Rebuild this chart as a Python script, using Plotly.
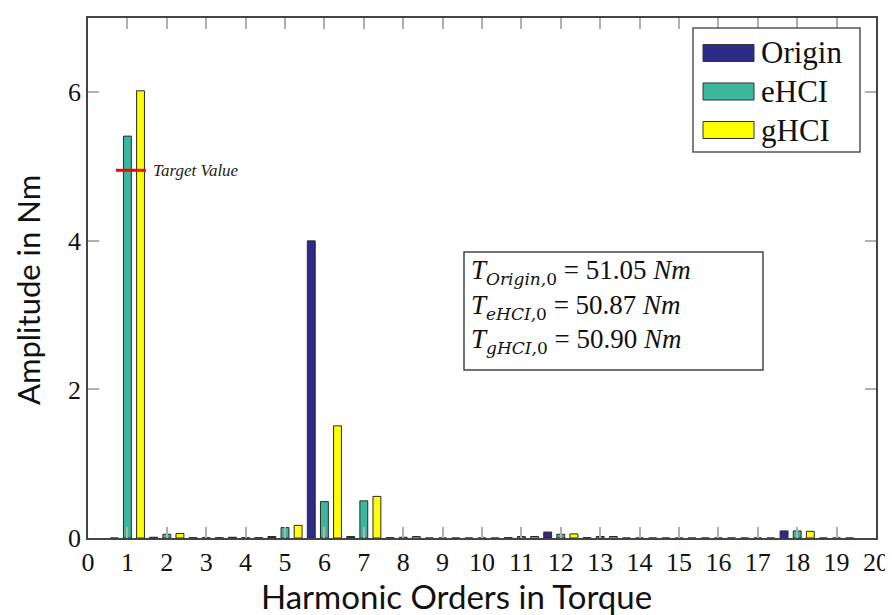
import plotly.graph_objects as go

harmonics = list(range(1, 20))
origin = [0.0, 0.01, 0.005, 0.01, 0.02, 4.0, 0.02, 0.005, 0.0, 0.0,
          0.005, 0.08, 0.005, 0.0, 0.0, 0.0, 0.0, 0.095, 0.0]
ehci = [5.41, 0.05, 0.005, 0.005, 0.14, 0.49, 0.50, 0.01, 0.0, 0.0,
        0.02, 0.05, 0.02, 0.0, 0.0, 0.0, 0.0, 0.095, 0.0]
ghci = [6.02, 0.06, 0.005, 0.005, 0.17, 1.51, 0.56, 0.02, 0.0, 0.0,
        0.02, 0.055, 0.02, 0.0, 0.0, 0.0, 0.0, 0.09, 0.0]
series_names = ["Origin", "eHCI", "gHCI"]
series_colors = ["#2e2a88", "#3bb89c", "#ffff00"]
x_ticks = list(range(0, 21))
y_ticks = [0, 2, 4, 6]
target_value = 4.95
mean_torque = {"Origin": "51.05", "eHCI": "50.87", "gHCI": "50.90"}
x_title = "Harmonic Orders in Torque"
y_title = "Amplitude in Nm"

BAR_W = 0.2
offsets = [-0.433, -0.1, 0.233]

# page has an 8px body margin; compensate so the plot area sits at page x 88..876, y 18..538
PAGE_OFF = 8
L, T, PW, PH = 88, 18, 788, 520

fig = go.Figure()
for name, vals, col, off in zip(series_names, [origin, ehci, ghci], series_colors, offsets):
    fig.add_trace(go.Bar(
        x=harmonics, y=vals, name=name, width=BAR_W, offset=off,
        marker=dict(color=col, line=dict(color="#2a2a2a", width=1)),
        showlegend=False,
    ))

serif = "Liberation Serif"
fig.update_layout(
    width=893 - PAGE_OFF, height=615 - PAGE_OFF,
    margin=dict(l=L - PAGE_OFF, r=893 - L - PW, t=T - PAGE_OFF, b=615 - T - PH),
    plot_bgcolor="white", paper_bgcolor="white",
    barmode="overlay",
    xaxis=dict(
        range=[0, 20], tickvals=x_ticks, ticktext=[str(v) for v in x_ticks],
        ticks="inside", ticklen=11, tickcolor="#b0b0b0", tickwidth=1.5,
        showline=True, linecolor="#444", linewidth=1.5, mirror="ticks",
        showgrid=False, zeroline=False, automargin=False,
        tickfont=dict(family=serif, size=26, color="#111"),
    ),
    yaxis=dict(
        range=[0, 7], tickvals=y_ticks,
        ticks="inside", ticklen=11, tickcolor="#b0b0b0", tickwidth=1.5,
        showline=True, linecolor="#444", linewidth=1.5, mirror="ticks",
        showgrid=False, zeroline=False, automargin=False,
        tickfont=dict(family=serif, size=26, color="#111"),
    ),
)

def px(xp):
    return (xp - L) / PW

def py(yp):
    return (T + PH - yp) / PH

# axis titles
fig.add_annotation(xref="paper", yref="paper", x=px(456), y=py(596),
                   xanchor="center", yanchor="middle", text=x_title, showarrow=False,
                   font=dict(family="Lato", size=33, color="#111"))
fig.add_annotation(xref="paper", yref="paper", x=px(28), y=py(290),
                   xanchor="center", yanchor="middle", text=y_title, showarrow=False,
                   textangle=-90, font=dict(family="Lato", size=31, color="#111"))

# target value marker
fig.add_shape(type="line", x0=0.71, x1=1.47, y0=target_value, y1=target_value,
              line=dict(color="red", width=3))
fig.add_annotation(x=1.6, y=target_value, xanchor="left", yanchor="middle",
                   text="<i>Target Value</i>", showarrow=False,
                   font=dict(family=serif, size=17, color="#222"))

# info box
fig.add_shape(type="rect", xref="paper", yref="paper",
              x0=px(464), x1=px(763), y0=py(370), y1=py(252),
              line=dict(color="#444", width=1.5), fillcolor="white")
for i, n in enumerate(series_names):
    txt = (f"<i>T</i><sub><span style='font-family:DejaVu Serif;font-size:17px'>"
           f"<i>{n},</i>0</span></sub>"
           f"&nbsp;=&nbsp;{mean_torque[n]}&nbsp;<i>Nm</i>")
    fig.add_annotation(xref="paper", yref="paper", x=px(469), y=py(272 + i * 34.5),
                       xanchor="left", yanchor="middle", align="left",
                       text=txt, showarrow=False,
                       font=dict(family=serif, size=27, color="#111"))

# legend box
fig.add_shape(type="rect", xref="paper", yref="paper",
              x0=px(693), x1=px(860), y0=py(152), y1=py(28),
              line=dict(color="#555", width=1.5), fillcolor="white")
for i, (n, c) in enumerate(zip(series_names, series_colors)):
    cyp = 53 + i * 38.5
    fig.add_shape(type="rect", xref="paper", yref="paper",
                  x0=px(703), x1=px(754), y0=py(cyp + 8.5), y1=py(cyp - 8.5),
                  line=dict(color="#333", width=1), fillcolor=c)
    fig.add_annotation(xref="paper", yref="paper", x=px(759), y=py(cyp),
                       xanchor="left", yanchor="middle", text=n, showarrow=False,
                       font=dict(family=serif, size=31, color="#111"))

fig.write_html("out.html")
